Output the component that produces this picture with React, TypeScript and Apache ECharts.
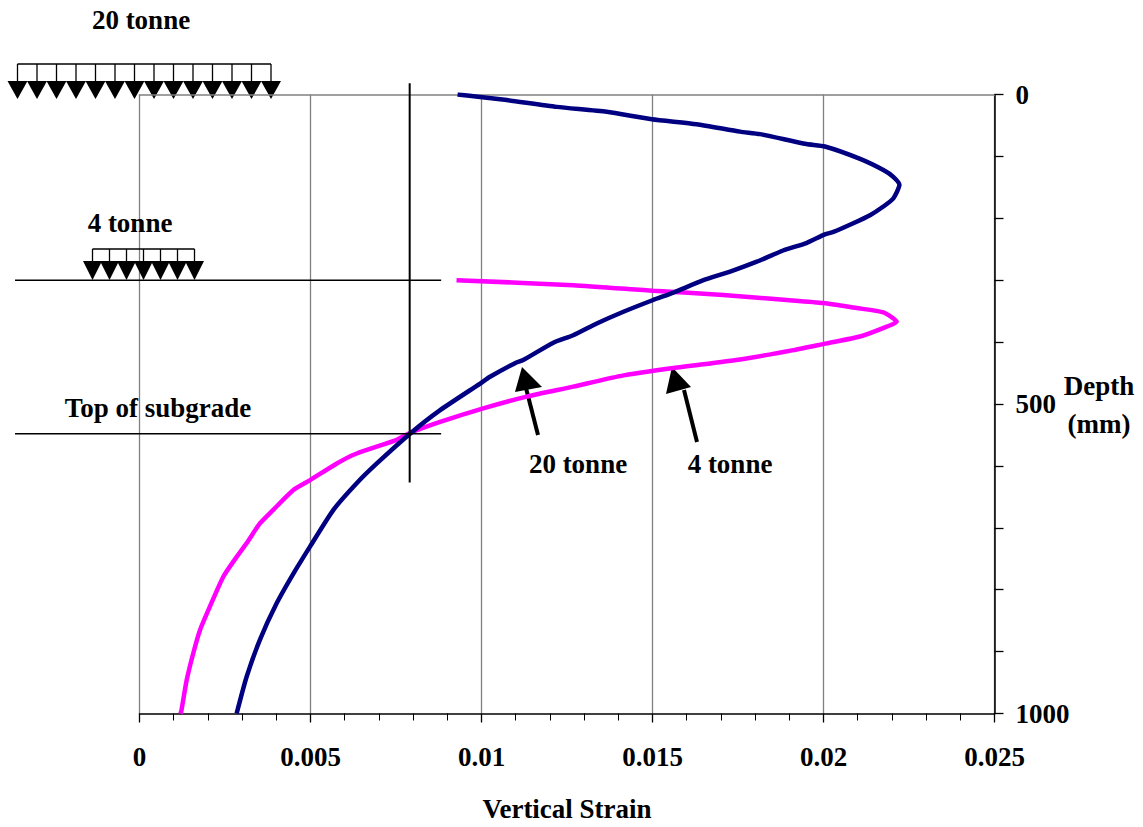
import React, { useEffect, useRef } from "react";
import * as echarts from "echarts";

// ---- data ----
const strainTicks = [0, 0.005, 0.01, 0.015, 0.02, 0.025];
const depthLabels = [0, 500, 1000];

const tonne20Strain = [
  0.0093, 0.00996, 0.01074, 0.0122, 0.01366, 0.01498, 0.01629, 0.01756, 0.01814, 0.0195,
  0.02004, 0.02107, 0.02175, 0.02204, 0.02222, 0.02204, 0.02175, 0.02136, 0.02087, 0.02029,
  0.02004, 0.0195, 0.01882, 0.01805, 0.01727, 0.01649, 0.01561, 0.01502, 0.01415, 0.01337,
  0.01268, 0.0121, 0.01122, 0.01098, 0.01025, 0.00996, 0.00879, 0.00791, 0.00694, 0.00635,
  0.00567, 0.00499, 0.0045, 0.00401, 0.00352, 0.00313, 0.00284,
];
const tonne20Depth = [
  0, 4, 9, 20, 28, 40, 48, 60, 64, 80,
  84, 104, 122, 133, 146, 168, 181, 195, 208, 222,
  226, 240, 252, 270, 286, 300, 320, 332, 351, 370,
  389, 401, 429, 434, 456, 467, 510, 548, 596, 628,
  671, 730, 774, 822, 881, 941, 1000,
];

const tonne4Strain = [
  0.00927, 0.01268, 0.01502, 0.01707, 0.01892, 0.02, 0.02097, 0.02175, 0.02214, 0.02185,
  0.02107, 0.02009, 0.01912, 0.01756, 0.01561, 0.01405, 0.01268, 0.01132, 0.01005, 0.00879,
  0.0079, 0.00752, 0.00635, 0.00577, 0.00499, 0.0045, 0.00391, 0.00352, 0.00313, 0.00284,
  0.00245, 0.00206, 0.00177, 0.00157, 0.00138, 0.00123, 0.0012,
];
const tonne4Depth = [
  300, 308, 317, 324, 332, 337, 345, 352, 367, 375,
  391, 402, 413, 428, 442, 455, 472, 488, 507, 529,
  547, 558, 580, 596, 623, 639, 671, 693, 725, 747,
  779, 827, 865, 903, 946, 994, 1000,
];

// reference lines (layer boundaries and crossing marker)
const layerDepths = [300, 548];
const layerStrainExtent = [-0.00364, 0.00882];
const markerStrain = 0.0079;
const markerDepthExtent = [-18, 627];

const FONT = '"Liberation Serif", "Times New Roman", serif';
const FS = 27;

function loadGraphic(x0: number, x1: number, n: number, barY: number, triTop: number, tipY: number, halfW: number) {
  const children: any[] = [];
  children.push({ type: "line", shape: { x1: x0, y1: barY, x2: x1, y2: barY }, style: { stroke: "#000", lineWidth: 1.3 } });
  const step = (x1 - x0) / (n - 1);
  for (let i = 0; i < n; i++) {
    const cx = x0 + i * step;
    children.push({ type: "line", shape: { x1: cx, y1: barY, x2: cx, y2: triTop }, style: { stroke: "#000", lineWidth: 1.3 } });
    children.push({
      type: "polygon",
      shape: { points: [[cx - halfW, triTop], [cx + halfW, triTop], [cx, tipY]] },
      style: { fill: "#000" },
    });
  }
  return { type: "group", children };
}

function arrowGraphic(tail: number[], neck: number[], head: number[][]) {
  return {
    type: "group",
    children: [
      { type: "line", shape: { x1: tail[0], y1: tail[1], x2: neck[0], y2: neck[1] }, style: { stroke: "#000", lineWidth: 4 } },
      { type: "polygon", shape: { points: head }, style: { fill: "#000" } },
    ],
  };
}

function txt(text: string, x: number, y: number) {
  return {
    type: "text",
    x,
    y,
    style: { text, font: `bold ${FS}px ${FONT}`, fill: "#000", align: "center", verticalAlign: "middle" },
  };
}

export default function App() {
  const ref = useRef<HTMLDivElement>(null);

  useEffect(() => {
    document.body.style.margin = "0";
    const chart = echarts.init(ref.current!, undefined, { renderer: "svg" });

    const pair = (xs: number[], ys: number[]) => xs.map((x, i) => [x, ys[i]]);

    chart.setOption({
      animation: false,
      backgroundColor: "#fff",
      grid: { left: 139.5, top: 94.5, width: 855, height: 619, containLabel: false, outerBoundsMode: "none" },
      xAxis: [
        {
          type: "value",
          position: "bottom",
          min: strainTicks[0],
          max: strainTicks[strainTicks.length - 1],
          interval: 0.005,
          name: "Vertical Strain",
          nameLocation: "middle",
          nameGap: 82,
          nameTextStyle: { fontFamily: FONT, fontWeight: "bold", fontSize: FS, color: "#000" },
          axisLine: { onZero: false, lineStyle: { color: "#000", width: 1.5 } },
          axisTick: { show: true, inside: false, length: 9, lineStyle: { color: "#000", width: 1.3 } },
          minorTick: { show: true, splitNumber: 5, length: 7, lineStyle: { color: "#000", width: 1 } },
          axisLabel: {
            margin: 30,
            fontFamily: FONT,
            fontWeight: "bold",
            fontSize: FS,
            color: "#000",
            formatter: (v: number) => String(+v.toFixed(3)),
          },
          splitLine: { show: true, lineStyle: { color: "#808080", width: 1.3 } },
        },
        {
          type: "value",
          position: "top",
          min: strainTicks[0],
          max: strainTicks[strainTicks.length - 1],
          axisLine: { show: true, onZero: false, lineStyle: { color: "#808080", width: 1.5 } },
          axisTick: { show: false },
          axisLabel: { show: false },
          splitLine: { show: false },
        },
      ],
      yAxis: {
        type: "value",
        position: "right",
        inverse: true,
        min: 0,
        max: 1000,
        interval: 100,
        axisLine: { show: true, onZero: false, lineStyle: { color: "#000", width: 1.5 } },
        axisTick: { show: true, inside: false, length: 9, lineStyle: { color: "#000", width: 1.3 } },
        axisLabel: {
          margin: 21,
          fontFamily: FONT,
          fontWeight: "bold",
          fontSize: FS,
          color: "#000",
          formatter: (v: number) => (depthLabels.includes(v) ? String(v) : ""),
        },
        splitLine: { show: false },
      },
      series: [
        {
          name: "20 tonne",
          type: "line",
          data: pair(tonne20Strain, tonne20Depth),
          symbol: "none",
          smooth: 0.2,
          lineStyle: { color: "#000080", width: 4.5 },
          z: 5,
        },
        {
          name: "4 tonne",
          type: "line",
          data: pair(tonne4Strain, tonne4Depth),
          symbol: "none",
          smooth: 0.2,
          lineStyle: { color: "#FF00FF", width: 4.5 },
          z: 4,
        },
      ],
    });

    const toPx = (x: number, y: number) => chart.convertToPixel({ xAxisIndex: 0, yAxisIndex: 0 }, [x, y]) as number[];
    const refLines: any[] = layerDepths.map((d) => {
      const a = toPx(layerStrainExtent[0], d);
      const b = toPx(layerStrainExtent[1], d);
      return { type: "line", z: 10, shape: { x1: a[0], y1: a[1], x2: b[0], y2: b[1] }, style: { stroke: "#000", lineWidth: 1.5 } };
    });
    {
      const a = toPx(markerStrain, markerDepthExtent[0]);
      const b = toPx(markerStrain, markerDepthExtent[1]);
      refLines.push({ type: "line", z: 10, shape: { x1: a[0], y1: a[1], x2: b[0], y2: b[1] }, style: { stroke: "#000", lineWidth: 2 } });
    }

    chart.setOption({
      graphic: [
        ...refLines,
        txt("20 tonne", 141, 20),
        loadGraphic(17.5, 271, 14, 64, 81, 99, 10),
        txt("4 tonne", 130, 223),
        loadGraphic(92.5, 194.5, 7, 249, 261, 280, 9.5),
        txt("Top of subgrade", 158, 408),
        txt("Depth", 1099, 386),
        txt("(mm)", 1099, 424),
        arrowGraphic([538, 435], [526, 388], [[522, 367], [515, 392], [542, 387]]),
        arrowGraphic([697, 442], [684, 390], [[672, 367], [666, 394], [691, 387]]),
        txt("20 tonne", 578, 464),
        txt("4 tonne", 730, 464),
      ],
    });

    return () => chart.dispose();
  }, []);

  return <div ref={ref} style={{ width: 1143, height: 827 }} />;
}
